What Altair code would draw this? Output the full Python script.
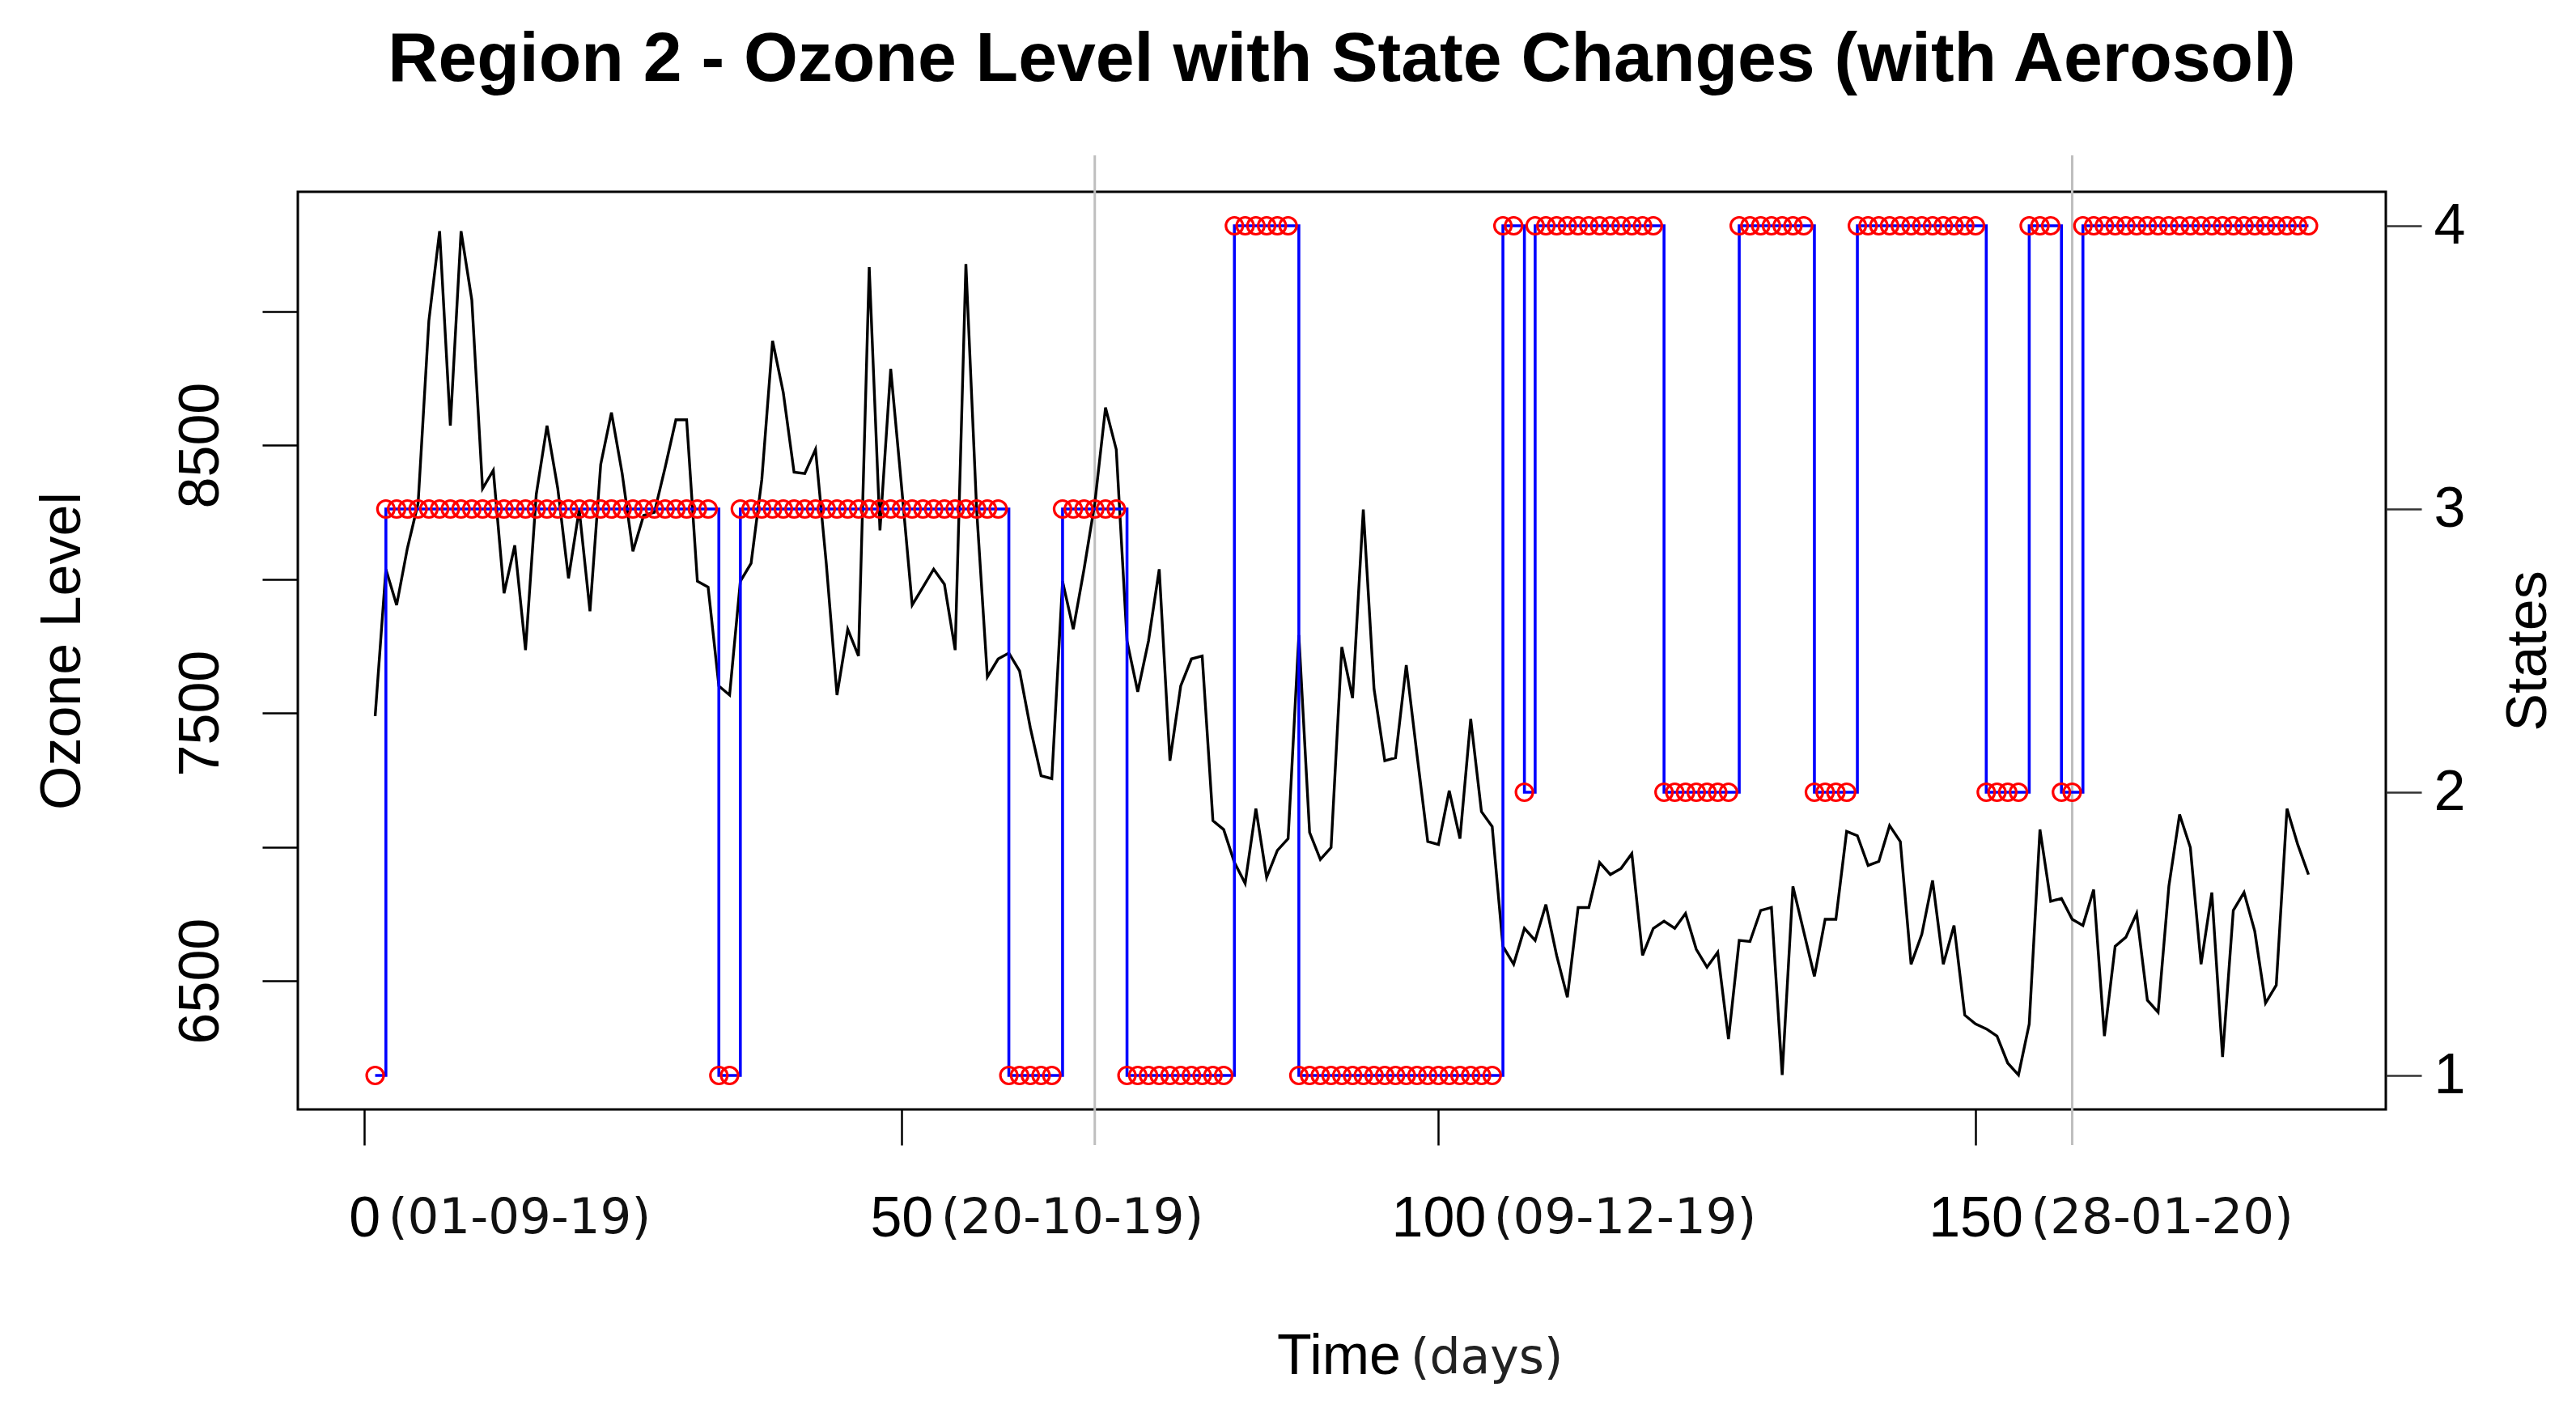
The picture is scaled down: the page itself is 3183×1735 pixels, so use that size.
import altair as alt
import pandas as pd

# ---------------- data ----------------
days = list(range(1, 182))

ozone = [
    7489, 8037, 7903, 8115, 8283, 8964, 9299, 8573, 9299, 9042,
    8338, 8406, 7947, 8126, 7735, 8316, 8573, 8339, 8003, 8260,
    7880, 8428, 8622, 8394, 8104, 8238, 8249, 8417, 8595, 8595,
    7992, 7970, 7601, 7567, 7992, 8059, 8372, 8890, 8696, 8399,
    8394, 8484, 8059, 7567, 7813, 7713, 9165, 8182, 8785, 8350,
    7903, 7970, 8037, 7981, 7735, 9176, 8260, 7635, 7702, 7724,
    7657, 7445, 7266, 7255, 7992, 7813, 8037, 8283, 8640, 8484,
    7769, 7579, 7769, 8037, 7322, 7601, 7702, 7713, 7098, 7065,
    6942, 6864, 7143, 6886, 6987, 7031, 7791, 7054, 6953, 6998,
    7746, 7556, 8260, 7590, 7322, 7333, 7679, 7344, 7020, 7009,
    7210, 7031, 7478, 7132, 7076, 6629, 6562, 6696, 6651, 6785,
    6595, 6439, 6774, 6774, 6942, 6897, 6920, 6975, 6595, 6696,
    6723, 6696, 6752, 6618, 6551, 6607, 6283, 6651, 6647, 6763,
    6774, 6149, 6853, 6685, 6517, 6730, 6730, 7058, 7042, 6931,
    6946, 7080, 7020, 6562, 6674, 6875, 6562, 6707, 6372, 6339,
    6321, 6294, 6193, 6149, 6339, 7065, 6797, 6808, 6730, 6707,
    6841, 6294, 6629, 6663, 6752, 6428, 6383, 6853, 7121, 6998,
    6562, 6830, 6216, 6763, 6830, 6685, 6417, 6484, 7143, 7009,
    6897,
]

states = [
    1,
    3, 3, 3, 3, 3, 3, 3, 3, 3, 3, 3, 3, 3, 3, 3, 3, 3, 3, 3, 3, 3, 3, 3, 3, 3, 3, 3, 3, 3, 3, 3,
    1, 1,
    3, 3, 3, 3, 3, 3, 3, 3, 3, 3, 3, 3, 3, 3, 3, 3, 3, 3, 3, 3, 3, 3, 3, 3, 3,
    1, 1, 1, 1, 1,
    3, 3, 3, 3, 3, 3,
    1, 1, 1, 1, 1, 1, 1, 1, 1, 1,
    4, 4, 4, 4, 4, 4,
    1, 1, 1, 1, 1, 1, 1, 1, 1, 1, 1, 1, 1, 1, 1, 1, 1, 1, 1,
    4, 4,
    2,
    4, 4, 4, 4, 4, 4, 4, 4, 4, 4, 4, 4,
    2, 2, 2, 2, 2, 2, 2,
    4, 4, 4, 4, 4, 4, 4,
    2, 2, 2, 2,
    4, 4, 4, 4, 4, 4, 4, 4, 4, 4, 4, 4,
    2, 2, 2, 2,
    4, 4, 4,
    2, 2,
    4, 4, 4, 4, 4, 4, 4, 4, 4, 4, 4, 4, 4, 4, 4, 4, 4, 4, 4, 4, 4, 4,
]

tick_days = [0, 50, 100, 150]
tick_nums = ["0", "50", "100", "150"]
tick_dates = ["(01-09-19)", "(20-10-19)", "(09-12-19)", "(28-01-20)"]
marker_days = [68, 159]
ozone_ticks = [6500, 7000, 7500, 8000, 8500, 9000]
state_ticks = [1, 2, 3, 4]

title_text = "Region 2 - Ozone Level with State Changes (with Aerosol)"

# ---------------- layout ----------------
W, H = 2580, 1134
X_DOMAIN = [-6.2, 188.2]
LAB = "Liberation Sans"
ALT_FONT = "DejaVu Sans"
FS = 70

df = pd.DataFrame({"day": days, "ozone": ozone, "state": states})
ticks_df = pd.DataFrame({"day": tick_days, "num": tick_nums, "date": tick_dates})
marks_df = pd.DataFrame({"day": marker_days})

xscale = alt.Scale(domain=X_DOMAIN, nice=False, zero=False)

x_axis = alt.Axis(
    values=tick_days, format="d", title="Time",
    titleX=1286, titleY=326, titleAngle=0, titleAlign="center",
    titleBaseline="alphabetic", titleFont=LAB, titleFontSize=FS,
    titleFontWeight="normal", titleColor="black",
    labelFont=LAB, labelFontSize=FS, labelColor="black",
    labelBaseline="alphabetic", labelPadding=112,
    labelFlush=False, labelOverlap=False,
    tickSize=44, tickWidth=2.5, tickColor="black",
    domain=False, grid=False,
)

left_axis = alt.Axis(
    orient="left", values=ozone_ticks,
    labelExpr="datum.value % 1000 == 500 ? format(datum.value, 'd') : ''",
    labelAngle=270, labelAlign="center", labelBaseline="alphabetic",
    labelFont=LAB, labelFontSize=FS, labelColor="black", labelPadding=55,
    labelFlush=False, labelOverlap=False,
    tickSize=44, tickWidth=2.5, tickColor="black",
    domain=False, grid=False,
    title="Ozone Level", titleAngle=270, titleX=-270, titleY=H / 2,
    titleAlign="center", titleBaseline="alphabetic",
    titleFont=LAB, titleFontSize=FS, titleFontWeight="normal", titleColor="black",
)

right_axis = alt.Axis(
    orient="right", values=state_ticks, format="d",
    labelAngle=0, labelAlign="left", labelBaseline="middle",
    labelFont=LAB, labelFontSize=FS, labelColor="black", labelPadding=15,
    labelFlush=False, labelOverlap=False,
    tickSize=44, tickWidth=2.5, tickColor="#333333",
    domain=False, grid=False,
    title="States", titleAngle=270, titleX=197, titleY=H / 2,
    titleAlign="center", titleBaseline="alphabetic",
    titleFont=LAB, titleFontSize=FS, titleFontWeight="normal", titleColor="black",
)

X = alt.X("day:Q", scale=xscale, axis=x_axis)
base = alt.Chart(df)

gray_rules = alt.Chart(marks_df).mark_rule(color="#BEBEBE", strokeWidth=3).encode(
    x=X, y=alt.value(-45), y2=alt.value(H + 44)
)

ozone_line = base.mark_line(color="black", strokeWidth=3.4).encode(
    x=X,
    y=alt.Y("ozone:Q", scale=alt.Scale(domain=[6020, 9446], nice=False, zero=False),
            axis=left_axis),
)

sscale = alt.Scale(domain=[0.88, 4.12], nice=False, zero=False)
SY = alt.Y("state:Q", scale=sscale, axis=right_axis)
state_step = base.mark_line(color="#0000FF", strokeWidth=3.6, interpolate="step-after").encode(
    x=X, y=SY,
)
state_pts = base.mark_point(shape="circle", filled=False, color="#FF0000",
                            size=440, strokeWidth=3.2, opacity=1).encode(
    x=X, y=SY,
)
states_layer = alt.layer(state_step, state_pts)

# date text starts just right of the tick number (offset converted from px to days)
px_per_day = W / (X_DOMAIN[1] - X_DOMAIN[0])
date_text = alt.Chart(ticks_df).transform_calculate(
    xd=f"datum.day + (length(datum.num) * 0.556 * {FS} / 2 + 10) / {px_per_day}"
).mark_text(align="left", baseline="alphabetic", font=ALT_FONT, fontSize=61,
            color="#111111").encode(
    x=alt.X("xd:Q", scale=xscale, axis=x_axis),
    y=alt.value(1524 - 237),
    text="date:N",
)

days_text = alt.Chart(pd.DataFrame({"t": ["(days)"]})).mark_text(
    align="left", baseline="alphabetic", font=ALT_FONT, fontSize=60, color="#222222"
).encode(x=alt.value(1375), y=alt.value(1460), text="t:N")

title_mark = alt.Chart(pd.DataFrame({"t": [title_text]})).mark_text(
    align="center", baseline="alphabetic", font=LAB, fontSize=86,
    fontWeight="bold", color="black"
).encode(x=alt.value(W / 2), y=alt.value(100 - 237), text="t:N")

chart = alt.layer(
    gray_rules, ozone_line, states_layer, date_text, days_text, title_mark
).resolve_scale(y="independent").properties(
    width=W, height=H,
    autosize=alt.AutoSizeParams(type="none"),
    padding={"left": 360, "top": 229, "right": 227, "bottom": 356},
    background="white",
).configure_view(stroke="black", strokeWidth=3)

chart.save("out.html", embed_options={"renderer": "svg", "actions": False})
